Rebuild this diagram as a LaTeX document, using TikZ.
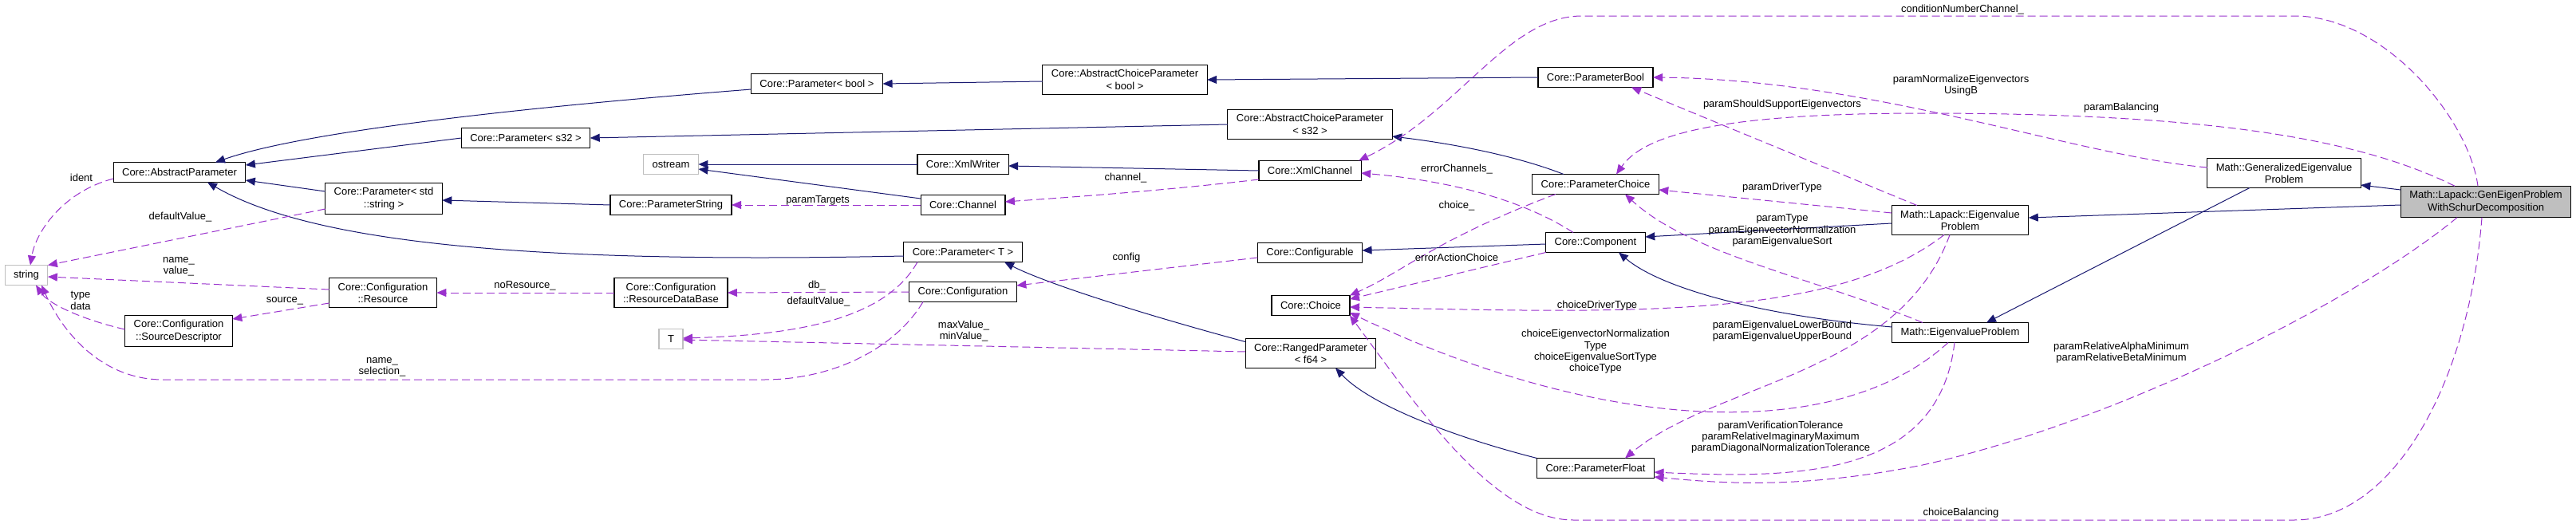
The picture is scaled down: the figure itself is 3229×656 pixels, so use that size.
\documentclass[tikz,border=0pt]{standalone}
\usepackage{fontspec}
\setmainfont{Liberation Sans}
\usetikzlibrary{arrows.meta}
\definecolor{inhblue}{HTML}{191970}
\definecolor{usepurple}{HTML}{9A32CD}
\definecolor{boxgray}{HTML}{BFBFBF}

\begin{document}
\begin{tikzpicture}[x=1pt,y=-1pt,inner sep=0pt,outer sep=0pt,
>={Triangle[length=12pt,width=10pt]},
classbox/.style={draw,rectangle,line width=1.2pt,fill=white,inner xsep=11pt,inner ysep=6pt,minimum height=25pt,align=center,font=\fontsize{13}{15.3}\selectfont},
extbox/.style={classbox,draw=boxgray},
mainbox/.style={classbox,fill=boxgray},
inherit/.style={->,draw=inhblue,line width=1pt},
member/.style={->,draw=usepurple,line width=1pt,dash pattern=on 10pt off 5pt},
memberlabel/.style={align=center,font=\fontsize{13}{14.3}\selectfont}]

\useasboundingbox (0,0) rectangle (3229,656);

\draw (33,345) node[extbox] (str) {string};
\draw (225,216) node[classbox] (absp) {Core::AbstractParameter};
\draw (224,415) node[classbox] (csrc) {Core::Configuration\\::SourceDescriptor};
\draw (481,249) node[classbox] (pstd) {Core::Parameter< std\\::string >};
\draw (480,367) node[classbox] (cres) {Core::Configuration\\::Resource};
\draw (659,173) node[classbox] (ps32) {Core::Parameter< s32 >};
\draw (841,206) node[extbox] (ostr) {ostream};
\draw (841,257) node[classbox] (pstring) {Core::ParameterString};
\draw (841,367) node[classbox] (rdb) {Core::Configuration\\::ResourceDataBase};
\draw (841,425) node[extbox] (tnode) {T};
\draw (1024,105) node[classbox] (pbool) {Core::Parameter< bool >};
\draw (1207,206) node[classbox] (xmlw) {Core::XmlWriter};
\draw (1207,257) node[classbox] (chan) {Core::Channel};
\draw (1207,316) node[classbox] (ptmpl) {Core::Parameter< T >};
\draw (1207,366) node[classbox] (conf) {Core::Configuration};
\draw (1410,100) node[classbox] (acpbool) {Core::AbstractChoiceParameter\\< bool >};
\draw (1642,156) node[classbox] (acps32) {Core::AbstractChoiceParameter\\< s32 >};
\draw (1642,214) node[classbox] (xmlc) {Core::XmlChannel};
\draw (1642,317) node[classbox] (cfgbl) {Core::Configurable};
\draw (1643,383) node[classbox] (choice) {Core::Choice};
\draw (1643,443) node[classbox] (ranged) {Core::RangedParameter\\< f64 >};
\draw (2000,97) node[classbox] (parbool) {Core::ParameterBool};
\draw (2000,231) node[classbox] (parchoice) {Core::ParameterChoice};
\draw (2000,304) node[classbox] (comp) {Core::Component};
\draw (2000,587) node[classbox] (parfloat) {Core::ParameterFloat};
\draw (2457,276) node[classbox] (lapev) {Math::Lapack::Eigenvalue\\Problem};
\draw (2457,417) node[classbox] (mathev) {Math::EigenvalueProblem};
\draw (2863,217) node[classbox] (genev) {Math::GeneralizedEigenvalue\\Problem};
\draw (3116,253) node[mainbox] (schur) {Math::Lapack::GenEigenProblem\\WithSchurDecomposition};

\draw[inherit] (ps32.west) -- ([yshift=9pt]absp.east);
\draw[inherit] ([yshift=9pt]pstd.west) -- ([yshift=-10pt]absp.east);
\draw[inherit] ([yshift=-7pt]pbool.west) .. controls (650,135) and (380,165) .. ([xshift=45pt]absp.north);
\draw[inherit] ([yshift=-5pt]ptmpl.west) .. controls (700,330) and (400,310) .. ([xshift=35pt]absp.south);
\draw[inherit] (pstring.west) -- ([yshift=-2pt]pstd.east);
\draw[inherit] ([yshift=-2pt]acpbool.west) -- (pbool.east);
\draw[inherit] (acps32.west) -- (ps32.east);
\draw[inherit] (xmlw.west) -- (ostr.east);
\draw[inherit] ([yshift=8pt]chan.west) -- ([yshift=-6pt]ostr.east);
\draw[inherit] (xmlc.west) -- ([yshift=-2pt]xmlw.east);
\draw[inherit] ([yshift=-4pt]ranged.north west) .. controls (1400,385) and (1300,350) .. ([xshift=52pt]ptmpl.south);
\draw[inherit] (parbool.west) -- (acpbool.east);
\draw[inherit] ([xshift=-40pt]parchoice.north) .. controls (1900,195) and (1820,180) .. ([yshift=-15pt]acps32.east);
\draw[inherit] ([yshift=-2pt]comp.west) -- ([yshift=3pt]cfgbl.east);
\draw[inherit] (parfloat.north west) .. controls (1830,550) and (1720,510) .. ([xshift=31pt]ranged.south);
\draw[inherit] ([yshift=-4pt]lapev.west) -- ([yshift=7pt]comp.east);
\draw[inherit] ([yshift=7pt]mathev.west) .. controls (2200,395) and (2080,360) .. ([xshift=29pt]comp.south);
\draw[inherit] ([yshift=15pt]schur.west) -- ([yshift=-15pt]genev.east);
\draw[inherit] ([yshift=-4pt]schur.west) -- ([yshift=3pt]lapev.east);
\draw[inherit] ([xshift=-43pt]genev.south) -- ([xshift=33pt]mathev.north);

\draw[member] ([yshift=-8pt]absp.west) .. controls (80,240) and (45,290) .. ([xshift=5pt]str.north);
\draw[member] ([yshift=-13pt]pstd.west) -- (str.north east);
\draw[member] ([yshift=4pt]cres.west) -- ([yshift=-2pt]str.east);
\draw[member] ([yshift=-13pt]cres.west) -- ([yshift=15pt]csrc.east);
\draw[member] ([yshift=2pt]csrc.west) .. controls (100,400) and (60,380) .. ([xshift=12pt]str.south);
\draw[member] ([xshift=-50pt]conf.south) .. controls (1120,440) and (1040,476) .. (958,476) -- (204,476) .. controls (130,476) and (80,420) .. ([xshift=19pt]str.south);
\draw[member] (rdb.west) -- (cres.east);
\draw[member] (conf.west) -- (rdb.east);
\draw[member] ([xshift=-57pt]ptmpl.south) .. controls (1110,400) and (1000,420) .. ([yshift=1pt]tnode.east);
\draw[member] ([yshift=2pt]ranged.west) -- ([yshift=-1pt]tnode.east);
\draw[member] (chan.west) -- (pstring.east);
\draw[member] ([yshift=-11pt]xmlc.west) .. controls (1450,240) and (1330,248) .. ([yshift=4pt]chan.east);
\draw[member] ([yshift=-6pt]cfgbl.west) -- ([yshift=8pt]conf.east);
\draw[member] ([xshift=-28pt]comp.north) .. controls (1900,245) and (1800,225) .. ([yshift=-3pt]xmlc.east);
\draw[member] ([xshift=-50pt]parchoice.south) .. controls (1800,300) and (1760,340) .. (choice.north east);
\draw[member] (comp.south west) -- ([yshift=8pt]choice.east);
\draw[member] ([xshift=-10pt]schur.north) .. controls (3095,150) and (2990,20) .. (2876,20) -- (1983,20) .. controls (1890,20) and (1830,140) .. ([xshift=-3pt]xmlc.north east);
\draw[member] ([yshift=7pt]genev.west) .. controls (2600,195) and (2350,100) .. (parbool.east);
\draw[member] ([xshift=-54pt]lapev.north) -- ([xshift=45pt]parbool.south);
\draw[member] ([xshift=-39pt]schur.north) .. controls (2950,170) and (2750,142) .. (2410,142) .. controls (2150,142) and (2060,170) .. ([xshift=26pt]parchoice.north);
\draw[member] ([yshift=9pt]lapev.west) -- ([yshift=-7pt]parchoice.east);
\draw[member] ([xshift=-47pt]mathev.north) .. controls (2280,350) and (2120,320) .. ([xshift=37pt]parchoice.south);
\draw[member] ([xshift=-20pt]lapev.south) .. controls (2300,400) and (2050,393) .. ([yshift=-2pt]choice.east);
\draw[member] ([xshift=-13pt]lapev.south) .. controls (2380,470) and (2150,480) .. ([xshift=37pt]parfloat.north);
\draw[member] ([xshift=-15pt]mathev.south) .. controls (2300,560) and (2000,540) .. ([yshift=-9pt]choice.east);
\draw[member] ([xshift=-7pt]mathev.south) .. controls (2430,600) and (2250,600) .. ([yshift=-5pt]parfloat.east);
\draw[member] ([xshift=-36pt]schur.south) .. controls (2950,380) and (2650,530) .. (2410,583) .. controls (2250,615) and (2150,605) .. ([yshift=-11pt]parfloat.east);
\draw[member] ([xshift=-5pt]schur.south) .. controls (3095,480) and (3000,652) .. (2876,652) -- (1972,652) .. controls (1870,652) and (1770,500) .. (choice.south east);

\draw (102,223) node[memberlabel] (lident) {ident};
\draw (226,272) node[memberlabel] (ldefstr) {defaultValue\_};
\draw (224,334) node[memberlabel] (lnameval) {name\_\\value\_};
\draw (357,377) node[memberlabel] (lsource) {source\_};
\draw (101,377) node[memberlabel] (ltype) {type\\data};
\draw (479,460) node[memberlabel] (lnamesel) {name\_\\selection\_};
\draw (658,358) node[memberlabel] (lnores) {noResource\_};
\draw (1024,358) node[memberlabel] (ldb) {db\_};
\draw (1026,378) node[memberlabel] (ldeft) {defaultValue\_};
\draw (1208,415) node[memberlabel] (lminmax) {maxValue\_\\minValue\_};
\draw (1025,251) node[memberlabel] (ltargets) {paramTargets};
\draw (1411,223) node[memberlabel] (lchannel) {channel\_};
\draw (1412,323) node[memberlabel] (lconfig) {config};
\draw (1826,212) node[memberlabel] (lerrch) {errorChannels\_};
\draw (1826,258) node[memberlabel] (lchoice) {choice\_};
\draw (1826,323) node[memberlabel] (lerrac) {errorActionChoice};
\draw (2460,12) node[memberlabel] (lcond) {conditionNumberChannel\_};
\draw (2458,107) node[memberlabel] (lnormb) {paramNormalizeEigenvectors\\UsingB};
\draw (2234,131) node[memberlabel] (lsupp) {paramShouldSupportEigenvectors};
\draw (2659,135) node[memberlabel] (lbal) {paramBalancing};
\draw (2234,235) node[memberlabel] (ldriver) {paramDriverType};
\draw (2234,289) node[memberlabel] (lptype) {paramType\\paramEigenvectorNormalization\\paramEigenvalueSort};
\draw (2002,383) node[memberlabel] (lcdriver) {choiceDriverType};
\draw (2234,415) node[memberlabel] (lbounds) {paramEigenvalueLowerBound\\paramEigenvalueUpperBound};
\draw (2000,441) node[memberlabel] (lctype) {choiceEigenvectorNormalization\\Type\\choiceEigenvalueSortType\\choiceType};
\draw (2232,548) node[memberlabel] (ltol) {paramVerificationTolerance\\paramRelativeImaginaryMaximum\\paramDiagonalNormalizationTolerance};
\draw (2659,442) node[memberlabel] (lalpha) {paramRelativeAlphaMinimum\\paramRelativeBetaMinimum};
\draw (2458,643) node[memberlabel] (lcbal) {choiceBalancing};
\end{tikzpicture}
\end{document}
